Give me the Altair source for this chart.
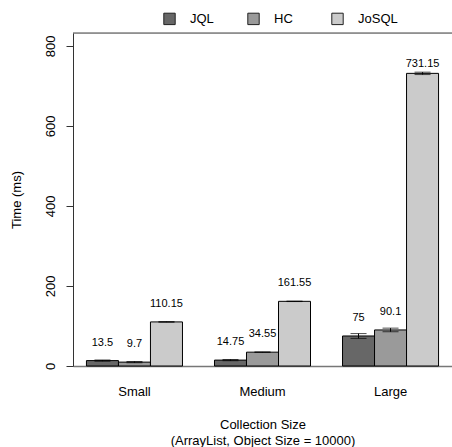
import altair as alt
import pandas as pd

groups = ["Small", "Medium", "Large"]
series = ["JQL", "HC", "JoSQL"]
values = {
    "JQL": [13.5, 14.75, 75],
    "HC": [9.7, 34.55, 90.1],
    "JoSQL": [110.15, 161.55, 731.15],
}
errors = {
    "JQL": [1.5, 1.5, 6],
    "HC": [1.5, 0.5, 4.5],
    "JoSQL": [0.5, 0.5, 3],
}
labels = {
    "JQL": ["13.5", "14.75", "75"],
    "HC": ["9.7", "34.55", "90.1"],
    "JoSQL": ["110.15", "161.55", "731.15"],
}
colors = ["#676767", "#9a9a9a", "#cbcbcb"]
y_ticks = [0, 200, 400, 600, 800]
y_max = 832

rows = []
for s in series:
    for i, g in enumerate(groups):
        rows.append({"group": g, "series": s, "value": values[s][i],
                     "err": errors[s][i], "label": labels[s][i]})
df = pd.DataFrame(rows)

FONT = "Liberation Sans"

x_enc = alt.X("group:N", sort=groups,
              scale=alt.Scale(paddingInner=0.25, paddingOuter=0.105),
              axis=alt.Axis(title=["Collection Size", "(ArrayList, Object Size = 10000)"],
                            labelAngle=0, ticks=False, labelPadding=19,
                            labelFontSize=13, titleFontSize=13, titleFontWeight="normal",
                            titlePadding=20, titleLineHeight=16,
                            domainColor="#777777", domainWidth=1.5,
                            labelColor="black", titleColor="black"))
xo_enc = alt.XOffset("series:N", sort=series,
                     scale=alt.Scale(paddingInner=0, paddingOuter=0))
y_scale = alt.Scale(domain=[0, y_max], nice=False, zero=True)

base = alt.Chart(df)

bars = base.mark_bar(stroke="black", strokeWidth=1, opacity=1).encode(
    x=x_enc,
    xOffset=xo_enc,
    y=alt.Y("value:Q", scale=y_scale,
            axis=alt.Axis(title="Time (ms)", values=y_ticks, grid=False,
                          tickSize=7, labelAngle=270, labelPadding=9,
                          labelFontSize=13, titleFontSize=13, titleFontWeight="normal",
                          titlePadding=21, domainColor="#333333", tickColor="#333333",
                          labelColor="black", titleColor="black")),
    color=alt.Color("series:N", sort=series,
                    scale=alt.Scale(domain=series, range=colors),
                    legend=alt.Legend(title=None, orient="none", direction="horizontal",
                                      columns=3, legendX=90, legendY=-21,
                                      symbolType="square", symbolSize=130,
                                      symbolStrokeColor="#222222", symbolStrokeWidth=1,
                                      labelFontSize=13, labelOffset=14, labelColor="black",
                                      columnPadding=15, gridAlign="all", padding=0)),
)

err_rule = base.mark_rule(color="black", strokeWidth=1).encode(
    x=alt.X("group:N", sort=groups),
    xOffset=alt.XOffset("series:N", sort=series),
    y=alt.Y("lo:Q", scale=y_scale),
    y2="hi:Q",
).transform_calculate(lo="datum.value - datum.err", hi="datum.value + datum.err")

cap_lo = base.mark_tick(color="black", thickness=1, size=16).encode(
    x=alt.X("group:N", sort=groups),
    xOffset=alt.XOffset("series:N", sort=series),
    y=alt.Y("lo:Q", scale=y_scale),
).transform_calculate(lo="datum.value - datum.err")

cap_hi = base.mark_tick(color="black", thickness=1, size=16).encode(
    x=alt.X("group:N", sort=groups),
    xOffset=alt.XOffset("series:N", sort=series),
    y=alt.Y("hi:Q", scale=y_scale),
).transform_calculate(hi="datum.value + datum.err")

text = base.mark_text(fontSize=11, font=FONT, color="black", baseline="middle").encode(
    x=alt.X("group:N", sort=groups),
    xOffset=alt.XOffset("series:N", sort=series),
    y=alt.Y("ly:Q", scale=y_scale),
    text="label:N",
).transform_calculate(ly="min(datum.value + 45, 755)")

top_line = alt.Chart(pd.DataFrame({"t": [y_max]})).mark_rule(color="#444444", strokeWidth=1).encode(
    y=alt.Y("t:Q", scale=y_scale)
)

chart = alt.layer(bars, err_rule, cap_lo, cap_hi, text, top_line).properties(
    width=379, height=333,
    autosize=alt.AutoSizeParams(type="none"),
    padding={"left": 73, "top": 33, "right": 0, "bottom": 81},
).configure_view(stroke=None).configure(font=FONT)

chart.save("out.html", embed_options={"renderer": "svg", "actions": False})
